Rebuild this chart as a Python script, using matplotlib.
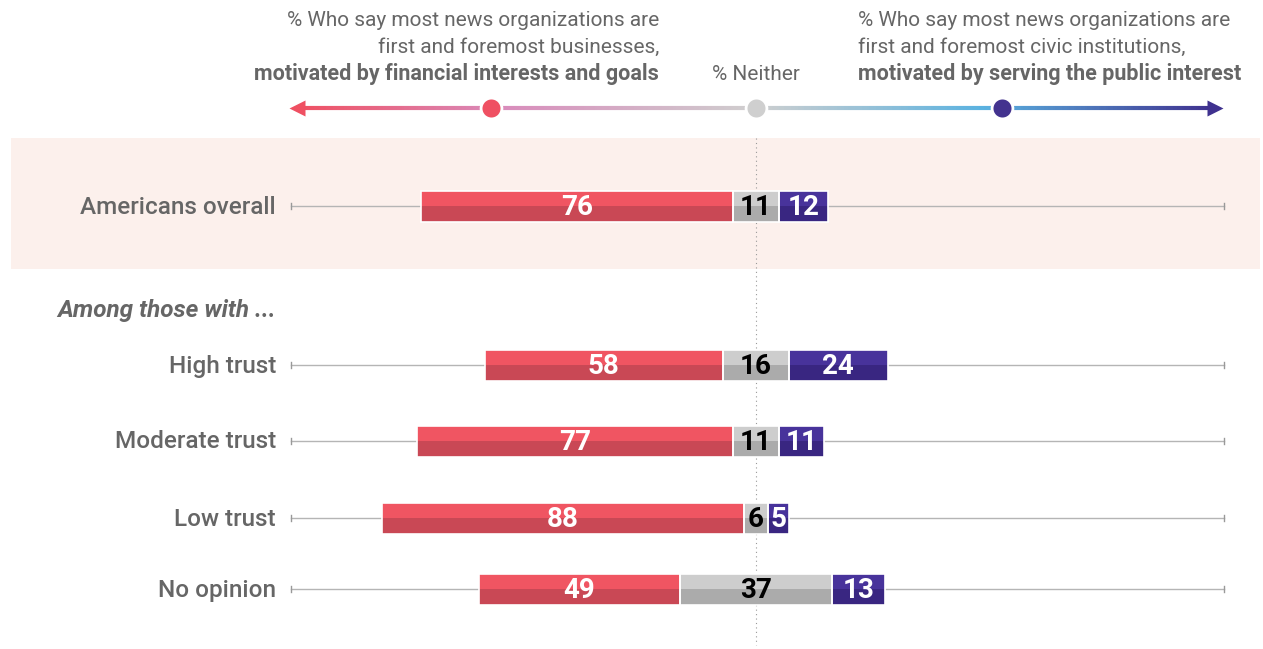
import numpy as np
import matplotlib
matplotlib.use("Agg")
import matplotlib.pyplot as plt
from matplotlib.collections import LineCollection
from matplotlib.colors import LinearSegmentedColormap
from matplotlib.patches import Rectangle

# data
groups = ["Americans overall", "High trust", "Moderate trust", "Low trust", "No opinion"]
financial = [76, 58, 77, 88, 49]
neither = [11, 16, 11, 6, 37]
civic = [12, 24, 11, 5, 13]

plt.rcParams['font.family'] = ['Roboto', 'DejaVu Sans']

W, H = 1263, 649
K = 4.11      # pixels per percentage point
CX = 756      # pixel x of the centre of the "neither" segment


def px(x):
    # pixel x -> data units
    return (x - CX) / K


fig = plt.figure(figsize=(W / 100, H / 100), dpi=100)
ax = fig.add_axes([0, 0, 1, 1])
ax.set_xlim(px(0), px(W))
ax.set_ylim(H, 0)
ax.axis("off")

TXT = "#666666"
row_y = [206, 365, 441, 518, 589]
bar_h = 31

# pink background for the overall row
ax.add_patch(Rectangle((px(11), 138), px(1260) - px(11), 131,
                       facecolor="#fcf0ec", edgecolor="none", zorder=0))

# dotted centre line
ax.plot([0, 0], [138, 645], color="#999999", lw=0.8, ls=(0, (1, 3)), zorder=1)

seg_colors = [("#f05562", "#c94855"), ("#cdcdcd", "#ababab"), ("#48339b", "#392681")]
txt_colors = ["white", "black", "white"]
num_font = ['Liberation Sans Narrow', 'Roboto', 'DejaVu Sans']

for i, g in enumerate(groups):
    y = row_y[i]
    # background line with end ticks
    ax.plot([px(291), px(1224)], [y, y], color="#b5b5b5", lw=1.0, zorder=1)
    for xe in (px(291), px(1224)):
        ax.plot([xe, xe], [y - 3, y + 3], color="#999999", lw=1.0, zorder=1)

    vals = [financial[i], neither[i], civic[i]]
    left = -(financial[i] + neither[i] / 2)
    for j, v in enumerate(vals):
        top, bot = seg_colors[j]
        ax.bar(left, bar_h / 2, width=v, bottom=y - bar_h / 2, align="edge",
               color=top, edgecolor="none", zorder=2)
        ax.bar(left, bar_h / 2, width=v, bottom=y, align="edge",
               color=bot, edgecolor="none", zorder=2)
        ax.bar(left, bar_h, width=v, bottom=y - bar_h / 2, align="edge",
               color="none", edgecolor="white", lw=1.2, zorder=3)
        ax.text(left + v / 2, y + 1.5, str(v), ha="center", va="center",
                color=txt_colors[j], fontsize=20, fontweight="bold",
                family=num_font, zorder=4)
        left += v

    ax.text(px(276), y + 1, g, ha="right", va="center", color=TXT, fontsize=17.5,
            fontweight="medium", zorder=4)

ax.text(px(276), 311, "Among those with ...", ha="right", va="center", color=TXT,
        fontsize=17.5, fontweight="bold", fontstyle="italic")

# header
hdr = dict(color=TXT, fontsize=15)
ax.text(px(659), 20, "% Who say most news organizations are", ha="right", va="center", **hdr)
ax.text(px(659), 47, "first and foremost businesses,", ha="right", va="center", **hdr)
ax.text(px(659), 74, "motivated by financial interests and goals", ha="right", va="center",
        fontweight="bold", color=TXT, fontsize=15.5)
ax.text(px(858), 20, "% Who say most news organizations are", ha="left", va="center", **hdr)
ax.text(px(858), 47, "first and foremost civic institutions,", ha="left", va="center", **hdr)
ax.text(px(858), 74, "motivated by serving the public interest", ha="left", va="center",
        fontweight="bold", color=TXT, fontsize=15.5)
ax.text(0, 74, "% Neither", ha="center", va="center", **hdr)

# gradient arrow
cmap = LinearSegmentedColormap.from_list("arrow", [
    (0.0, "#ef5062"), (0.22, "#d98bbb"), (0.50, "#cfcfcf"),
    (0.75, "#5ab2e0"), (1.0, "#3f318f")])
xs = np.linspace(px(296), px(1214), 400)
segs = [[(xs[k], 108), (xs[k + 1], 108)] for k in range(len(xs) - 1)]
lc = LineCollection(segs, colors=cmap(np.linspace(0, 1, len(segs))), lw=3, zorder=2)
ax.add_collection(lc)
ax.plot(px(297), 108, marker="<", ms=11, color="#ef5062", mec="none", zorder=3)
ax.plot(px(1215), 108, marker=">", ms=11, color="#3f318f", mec="none", zorder=3)
for xc, c in [(491, "#ef5062"), (756, "#cfcfcf"), (1002, "#43338f")]:
    ax.plot(px(xc), 108, marker="o", ms=15, color=c, mec="white", mew=2, zorder=4)

fig.savefig("out.png", dpi=100, facecolor="white")
